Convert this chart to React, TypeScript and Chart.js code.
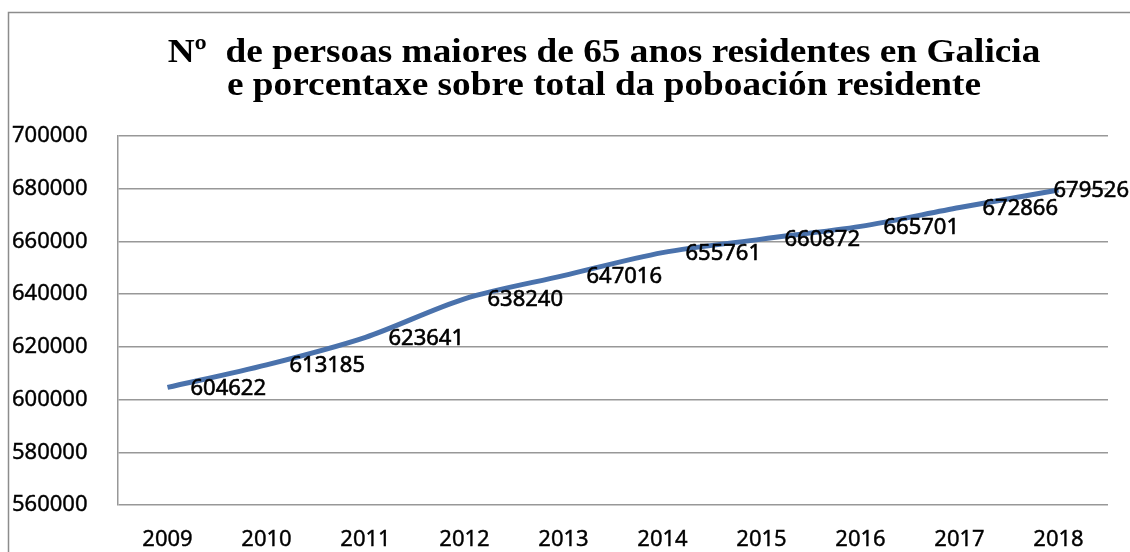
import React, { useEffect, useRef } from "react";
import { Chart, registerables } from "chart.js";

Chart.register(...registerables);

const titleLines = [
  "Nº  de persoas maiores de 65 anos residentes en Galicia",
  "e porcentaxe sobre total da poboación residente",
];
const years = ["2009", "2010", "2011", "2012", "2013", "2014", "2015", "2016", "2017", "2018"];
const residents = [604622, 613185, 623641, 638240, 647016, 655761, 660872, 665701, 672866, 679526];
const yMin = 560000;
const yMax = 700000;
const yStep = 20000;

const labelFont = "22px 'Noto Sans'";

const decorPlugin = {
  id: "decor",
  beforeDraw(chart: any) {
    const ctx = chart.ctx;
    ctx.save();
    ctx.fillStyle = "#ffffff";
    ctx.fillRect(0, 0, chart.width, chart.height);
    ctx.strokeStyle = "#8c8c8c";
    ctx.lineWidth = 1.5;
    ctx.strokeRect(8.5, 12.5, chart.width + 50, chart.height + 50);
    ctx.fillStyle = "#000";
    ctx.font = "bold 33px 'Liberation Serif'";
    ctx.textAlign = "center";
    ctx.textBaseline = "alphabetic";
    ctx.translate(604, 0);
    ctx.scale(1.13, 1);
    ctx.fillText(titleLines[0], 0, 62);
    ctx.fillText(titleLines[1], 0, 95);
    ctx.restore();
  },
  afterDatasetsDraw(chart: any) {
    const ctx = chart.ctx;
    const meta = chart.getDatasetMeta(0);
    ctx.save();
    ctx.font = labelFont;
    ctx.fillStyle = "#000";
    ctx.strokeStyle = "#000";
    ctx.lineWidth = 0.6;
    ctx.textBaseline = "middle";
    ctx.textAlign = "left";
    meta.data.forEach((pt: any, i: number) => {
      const txt = String(residents[i]);
      let x = pt.x + 23;
      if (i === residents.length - 1) x = pt.x - 5;
      ctx.fillText(txt, x, pt.y + 1);
      ctx.strokeText(txt, x, pt.y + 1);
    });
    ctx.restore();
  },
};

export default function App() {
  const ref = useRef<HTMLCanvasElement>(null);
  useEffect(() => {
    if (!ref.current) return;
    const chart = new Chart(ref.current, {
      type: "line",
      data: {
        labels: years,
        datasets: [
          {
            data: residents,
            borderColor: "#4A72AC",
            borderWidth: 5,
            pointRadius: 0,
            tension: 0.3,
            fill: false,
          },
        ],
      },
      options: {
        animation: false,
        responsive: false,
        events: [],
        layout: { padding: { left: 12, right: 22, top: 136, bottom: 0 } },
        plugins: { legend: { display: false }, title: { display: false }, tooltip: { enabled: false } },
        scales: {
          x: {
            offset: true,
            grid: { display: false, drawTicks: false },
            border: { display: false },
            ticks: {
              color: "#000",
              font: { family: "'Noto Sans'", size: 22 },
              padding: 22,
              maxRotation: 0,
              textStrokeColor: "#000",
              textStrokeWidth: 0.4,
            },
            afterFit: (s: any) => {
              s.height = 47;
            },
          },
          y: {
            min: yMin,
            max: yMax,
            grid: { color: "#989898", lineWidth: 1.5, drawTicks: false },
            border: { display: true, color: "#989898", width: 1.5 },
            ticks: {
              stepSize: yStep,
              color: "#000",
              font: { family: "'Noto Sans'", size: 22 },
              crossAlign: "far",
              padding: 0,
              textStrokeColor: "#000",
              textStrokeWidth: 0.4,
              callback: (v: any) => String(v),
            },
            afterFit: (s: any) => {
              s.width = 106;
            },
          },
        },
      },
      plugins: [decorPlugin],
    });
    return () => chart.destroy();
  }, []);
  return (
    <div style={{ position: "fixed", left: 0, top: 0, width: 1130, height: 552, background: "#fff" }}>
      <canvas ref={ref} width={1130} height={552} style={{ display: "block" }} />
    </div>
  );
}
